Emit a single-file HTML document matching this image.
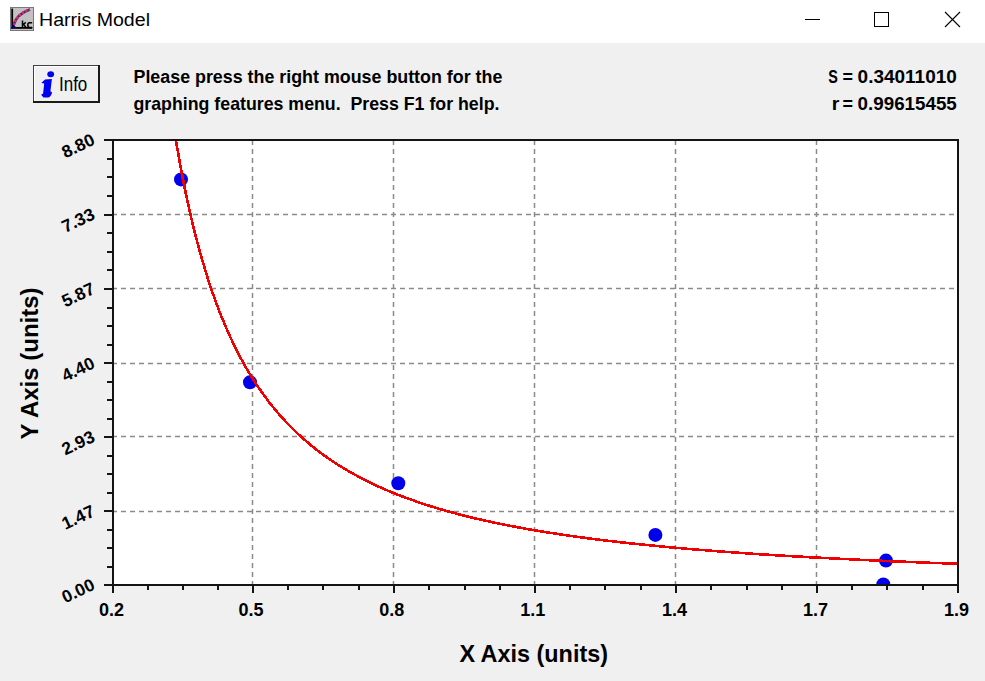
<!DOCTYPE html>
<html><head><meta charset="utf-8"><style>
html,body{margin:0;padding:0;background:#f0f0f0;overflow:hidden;}
svg{display:block;} text{font-family:"Liberation Sans",sans-serif;}
</style></head><body>
<svg width="985" height="681" viewBox="0 0 985 681">
<rect x="0" y="0" width="985" height="43" fill="#ffffff"/>
<rect x="0" y="43" width="985" height="638" fill="#f0f0f0"/>
<g>
<rect x="10" y="7" width="24" height="24" fill="#c2c2c2"/>
<rect x="10.5" y="7.5" width="23" height="23" fill="none" stroke="#7a7a7a" stroke-width="1"/>
<path d="M13.5,25.5 Q16.5,14 30,9.5" fill="none" stroke="#3a2a90" stroke-width="2.6"/>
<path d="M13.5,25.5 Q16.5,14 30,9.5" fill="none" stroke="#e8304a" stroke-width="2.8" stroke-dasharray="2.2,1.6"/>
<rect x="11.3" y="8.6" width="1.8" height="20" fill="#000"/>
<rect x="11.3" y="27" width="21" height="1.8" fill="#000"/>
<path d="M12,23.5 L12,28 L17,28 Z" fill="#000070"/>
<path d="M22.5,20.5 v7.5 M22.6,25 l3.2,-2.6 M23.6,24.4 l2.6,3.4 M32.2,22.8 h-2.6 q-1.8,0 -1.8,2.3 q0,2.4 1.8,2.4 h2.6" fill="none" stroke="#000" stroke-width="1.5"/>
</g>
<text x="39" y="26" font-family="Liberation Sans, sans-serif" font-size="19.2" fill="#000" textLength="111" lengthAdjust="spacingAndGlyphs">Harris Model</text>
<g stroke="#000" stroke-width="1" fill="none" shape-rendering="crispEdges"><line x1="805" y1="19.5" x2="820" y2="19.5"/><rect x="874.5" y="12.5" width="14" height="14"/></g>
<g stroke="#000" stroke-width="1.1" fill="none"><line x1="945" y1="12" x2="960" y2="27"/><line x1="960" y1="12" x2="945" y2="27"/></g>
<g shape-rendering="crispEdges">
<rect x="33" y="65" width="67" height="38" fill="#f0f0f0"/>
<rect x="33" y="65" width="67" height="1" fill="#404040"/>
<rect x="33" y="65" width="1" height="38" fill="#404040"/>
<rect x="34" y="66" width="64" height="1" fill="#ffffff"/>
<rect x="34" y="66" width="1" height="35" fill="#ffffff"/>
<rect x="98" y="65" width="2" height="38" fill="#1a1a1a"/>
<rect x="33" y="101" width="67" height="2" fill="#1a1a1a"/>
</g>
<ellipse cx="50.7" cy="74.2" rx="3.4" ry="3" fill="#0000f0"/>
<path d="M41.3,82.9 L45,79.5 L51.9,79.1 L50.4,91.3 L52.1,92.5 Q51.2,96.6 48.2,97.6 L43.5,97.4 L41.1,94.8 L43.1,93.4 L44.2,83.5 Z" fill="#0000f0"/>
<text x="59" y="90.6" font-family="Liberation Sans, sans-serif" font-size="19.5" fill="#000" transform="translate(59,0) scale(0.87,1) translate(-59,0)">Info</text>
<text x="133.5" y="83.2" font-family="Liberation Sans, sans-serif" font-weight="bold" font-size="17.85" fill="#000">Please press the right mouse button for the</text>
<text x="133.5" y="110" font-family="Liberation Sans, sans-serif" font-weight="bold" font-size="17.75" fill="#000" xml:space="preserve">graphing features menu.  Press F1 for help.</text>
<text y="83.1" font-family="Liberation Sans, sans-serif" font-weight="bold" font-size="18.2" fill="#000"><tspan x="828.2" textLength="9.6" lengthAdjust="spacingAndGlyphs">S</tspan><tspan x="842.6" textLength="10.5" lengthAdjust="spacingAndGlyphs">=</tspan><tspan x="857.6" textLength="99.2" lengthAdjust="spacingAndGlyphs">0.34011010</tspan></text>
<text y="110.2" font-family="Liberation Sans, sans-serif" font-weight="bold" font-size="18.2" fill="#000"><tspan x="831.8" textLength="7.6" lengthAdjust="spacingAndGlyphs">r</tspan><tspan x="842.6" textLength="10.5" lengthAdjust="spacingAndGlyphs">=</tspan><tspan x="857.6" textLength="99.2" lengthAdjust="spacingAndGlyphs">0.99615455</tspan></text>
<rect x="114" y="141" width="843" height="443" fill="#ffffff"/>
<g stroke="#8a8a8a" stroke-width="1.5">
<line x1="252.5" y1="140" x2="252.5" y2="584" stroke-dasharray="5,4"/>
<line x1="393.5" y1="140" x2="393.5" y2="584" stroke-dasharray="5,4"/>
<line x1="534.5" y1="140" x2="534.5" y2="584" stroke-dasharray="5,4"/>
<line x1="675.5" y1="140" x2="675.5" y2="584" stroke-dasharray="5,4"/>
<line x1="816.5" y1="140" x2="816.5" y2="584" stroke-dasharray="5,4"/>
<line x1="112" y1="214.5" x2="957" y2="214.5" stroke-dasharray="5,4"/>
<line x1="112" y1="288.5" x2="957" y2="288.5" stroke-dasharray="5,4"/>
<line x1="112" y1="363.5" x2="957" y2="363.5" stroke-dasharray="5,4"/>
<line x1="112" y1="436.5" x2="957" y2="436.5" stroke-dasharray="5,4"/>
<line x1="112" y1="511.5" x2="957" y2="511.5" stroke-dasharray="5,4"/>
</g>
<defs><clipPath id="pc"><rect x="114" y="141" width="843" height="443"/></clipPath></defs>
<g clip-path="url(#pc)">
<circle cx="181" cy="179.4" r="7" fill="#0000ea"/>
<circle cx="250" cy="382.3" r="7" fill="#0000ea"/>
<circle cx="398.3" cy="483.3" r="7" fill="#0000ea"/>
<circle cx="655.4" cy="534.9" r="7" fill="#0000ea"/>
<circle cx="886" cy="560.6" r="7" fill="#0000ea"/>
<circle cx="883.3" cy="584.5" r="7" fill="#0000ea"/>
<path d="M168.7,93.3 L170.7,107.1 L172.7,120.3 L174.7,132.8 L176.7,144.8 L178.7,156.2 L180.6,167.1 L182.6,177.5 L184.6,187.5 L186.6,197.1 L188.6,206.3 L190.6,215.1 L192.6,223.5 L194.6,231.7 L196.6,239.5 L198.6,247.0 L200.6,254.2 L202.6,261.2 L204.6,267.9 L206.6,274.4 L208.5,280.7 L210.5,286.7 L212.5,292.6 L214.5,298.2 L216.5,303.7 L218.5,309.0 L220.5,314.1 L222.5,319.0 L224.5,323.8 L226.5,328.5 L228.5,333.0 L230.5,337.4 L232.5,341.6 L234.5,345.8 L236.5,349.8 L238.4,353.7 L240.4,357.5 L242.4,361.1 L244.4,364.7 L246.4,368.2 L248.4,371.6 L250.4,374.9 L252.4,378.1 L254.4,381.3 L256.4,384.3 L258.4,387.3 L260.4,390.2 L262.4,393.0 L264.4,395.8 L266.4,398.5 L268.3,401.1 L270.3,403.7 L272.3,406.2 L274.3,408.6 L276.3,411.0 L278.3,413.4 L280.3,415.6 L282.3,417.9 L284.3,420.1 L286.3,422.2 L288.3,424.3 L290.3,426.3 L292.3,428.3 L294.3,430.3 L296.3,432.2 L298.2,434.1 L300.2,435.9 L302.2,437.7 L304.2,439.5 L306.2,441.2 L308.2,442.9 L310.2,444.6 L312.2,446.2 L314.2,447.8 L316.2,449.4 L318.2,450.9 L320.2,452.4 L322.2,453.9 L324.2,455.4 L326.1,456.8 L328.1,458.2 L330.1,459.5 L332.1,460.9 L334.1,462.2 L336.1,463.5 L338.1,464.8 L340.1,466.1 L342.1,467.3 L344.1,468.5 L346.1,469.7 L348.1,470.9 L350.1,472.0 L352.1,473.1 L354.1,474.3 L356.0,475.3 L358.0,476.4 L360.0,477.5 L362.0,478.5 L364.0,479.5 L366.0,480.6 L368.0,481.5 L370.0,482.5 L372.0,483.5 L374.0,484.4 L376.0,485.4 L378.0,486.3 L380.0,487.2 L382.0,488.1 L384.0,488.9 L385.9,489.8 L387.9,490.7 L389.9,491.5 L391.9,492.3 L393.9,493.1 L395.9,493.9 L397.9,494.7 L399.9,495.5 L401.9,496.3 L403.9,497.0 L405.9,497.8 L407.9,498.5 L409.9,499.2 L411.9,499.9 L413.9,500.6 L415.8,501.3 L417.8,502.0 L419.8,502.7 L421.8,503.4 L423.8,504.0 L425.8,504.7 L427.8,505.3 L429.8,505.9 L431.8,506.6 L433.8,507.2 L435.8,507.8 L437.8,508.4 L439.8,509.0 L441.8,509.6 L443.7,510.1 L445.7,510.7 L447.7,511.3 L449.7,511.8 L451.7,512.4 L453.7,512.9 L455.7,513.4 L457.7,514.0 L459.7,514.5 L461.7,515.0 L463.7,515.5 L465.7,516.0 L467.7,516.5 L469.7,517.0 L471.7,517.5 L473.6,518.0 L475.6,518.4 L477.6,518.9 L479.6,519.4 L481.6,519.8 L483.6,520.3 L485.6,520.7 L487.6,521.2 L489.6,521.6 L491.6,522.0 L493.6,522.5 L495.6,522.9 L497.6,523.3 L499.6,523.7 L501.6,524.1 L503.5,524.5 L505.5,524.9 L507.5,525.3 L509.5,525.7 L511.5,526.1 L513.5,526.5 L515.5,526.8 L517.5,527.2 L519.5,527.6 L521.5,528.0 L523.5,528.3 L525.5,528.7 L527.5,529.0 L529.5,529.4 L531.5,529.7 L533.4,530.1 L535.4,530.4 L537.4,530.7 L539.4,531.1 L541.4,531.4 L543.4,531.7 L545.4,532.1 L547.4,532.4 L549.4,532.7 L551.4,533.0 L553.4,533.3 L555.4,533.6 L557.4,533.9 L559.4,534.2 L561.3,534.5 L563.3,534.8 L565.3,535.1 L567.3,535.4 L569.3,535.7 L571.3,536.0 L573.3,536.3 L575.3,536.5 L577.3,536.8 L579.3,537.1 L581.3,537.4 L583.3,537.6 L585.3,537.9 L587.3,538.2 L589.3,538.4 L591.2,538.7 L593.2,538.9 L595.2,539.2 L597.2,539.4 L599.2,539.7 L601.2,539.9 L603.2,540.2 L605.2,540.4 L607.2,540.7 L609.2,540.9 L611.2,541.1 L613.2,541.4 L615.2,541.6 L617.2,541.8 L619.2,542.1 L621.1,542.3 L623.1,542.5 L625.1,542.7 L627.1,542.9 L629.1,543.2 L631.1,543.4 L633.1,543.6 L635.1,543.8 L637.1,544.0 L639.1,544.2 L641.1,544.4 L643.1,544.6 L645.1,544.8 L647.1,545.0 L649.1,545.2 L651.0,545.4 L653.0,545.6 L655.0,545.8 L657.0,546.0 L659.0,546.2 L661.0,546.4 L663.0,546.6 L665.0,546.8 L667.0,547.0 L669.0,547.2 L671.0,547.3 L673.0,547.5 L675.0,547.7 L677.0,547.9 L678.9,548.1 L680.9,548.2 L682.9,548.4 L684.9,548.6 L686.9,548.8 L688.9,548.9 L690.9,549.1 L692.9,549.3 L694.9,549.4 L696.9,549.6 L698.9,549.8 L700.9,549.9 L702.9,550.1 L704.9,550.2 L706.9,550.4 L708.8,550.6 L710.8,550.7 L712.8,550.9 L714.8,551.0 L716.8,551.2 L718.8,551.3 L720.8,551.5 L722.8,551.6 L724.8,551.8 L726.8,551.9 L728.8,552.1 L730.8,552.2 L732.8,552.4 L734.8,552.5 L736.8,552.7 L738.7,552.8 L740.7,552.9 L742.7,553.1 L744.7,553.2 L746.7,553.4 L748.7,553.5 L750.7,553.6 L752.7,553.8 L754.7,553.9 L756.7,554.0 L758.7,554.2 L760.7,554.3 L762.7,554.4 L764.7,554.5 L766.7,554.7 L768.6,554.8 L770.6,554.9 L772.6,555.1 L774.6,555.2 L776.6,555.3 L778.6,555.4 L780.6,555.5 L782.6,555.7 L784.6,555.8 L786.6,555.9 L788.6,556.0 L790.6,556.1 L792.6,556.3 L794.6,556.4 L796.5,556.5 L798.5,556.6 L800.5,556.7 L802.5,556.8 L804.5,556.9 L806.5,557.1 L808.5,557.2 L810.5,557.3 L812.5,557.4 L814.5,557.5 L816.5,557.6 L818.5,557.7 L820.5,557.8 L822.5,557.9 L824.5,558.0 L826.4,558.1 L828.4,558.2 L830.4,558.3 L832.4,558.4 L834.4,558.5 L836.4,558.6 L838.4,558.7 L840.4,558.8 L842.4,558.9 L844.4,559.0 L846.4,559.1 L848.4,559.2 L850.4,559.3 L852.4,559.4 L854.4,559.5 L856.3,559.6 L858.3,559.7 L860.3,559.8 L862.3,559.9 L864.3,560.0 L866.3,560.1 L868.3,560.2 L870.3,560.3 L872.3,560.4 L874.3,560.5 L876.3,560.5 L878.3,560.6 L880.3,560.7 L882.3,560.8 L884.3,560.9 L886.2,561.0 L888.2,561.1 L890.2,561.2 L892.2,561.2 L894.2,561.3 L896.2,561.4 L898.2,561.5 L900.2,561.6 L902.2,561.7 L904.2,561.7 L906.2,561.8 L908.2,561.9 L910.2,562.0 L912.2,562.1 L914.1,562.1 L916.1,562.2 L918.1,562.3 L920.1,562.4 L922.1,562.5 L924.1,562.5 L926.1,562.6 L928.1,562.7 L930.1,562.8 L932.1,562.8 L934.1,562.9 L936.1,563.0 L938.1,563.1 L940.1,563.1 L942.1,563.2 L944.0,563.3 L946.0,563.4 L948.0,563.4 L950.0,563.5 L952.0,563.6 L954.0,563.7 L956.0,563.7 L958.0,563.8" fill="none" stroke="#f00000" stroke-width="2.6" shape-rendering="crispEdges"/>
</g>
<g fill="#141414" shape-rendering="crispEdges">
<rect x="112" y="139" width="847" height="2"/>
<rect x="112" y="584" width="847" height="2"/>
<rect x="112" y="139" width="2" height="447"/>
<rect x="957" y="139" width="2" height="447"/>
<rect x="147" y="586" width="2" height="4"/>
<rect x="182" y="586" width="2" height="4"/>
<rect x="217" y="586" width="2" height="4"/>
<rect x="287" y="586" width="2" height="4"/>
<rect x="322" y="586" width="2" height="4"/>
<rect x="358" y="586" width="2" height="4"/>
<rect x="428" y="586" width="2" height="4"/>
<rect x="464" y="586" width="2" height="4"/>
<rect x="499" y="586" width="2" height="4"/>
<rect x="569" y="586" width="2" height="4"/>
<rect x="604" y="586" width="2" height="4"/>
<rect x="640" y="586" width="2" height="4"/>
<rect x="710" y="586" width="2" height="4"/>
<rect x="746" y="586" width="2" height="4"/>
<rect x="781" y="586" width="2" height="4"/>
<rect x="851" y="586" width="2" height="4"/>
<rect x="886" y="586" width="2" height="4"/>
<rect x="922" y="586" width="2" height="4"/>
<rect x="112" y="586" width="2" height="7"/>
<rect x="252" y="586" width="2" height="7"/>
<rect x="393" y="586" width="2" height="7"/>
<rect x="534" y="586" width="2" height="7"/>
<rect x="675" y="586" width="2" height="7"/>
<rect x="816" y="586" width="2" height="7"/>
<rect x="957" y="586" width="2" height="7"/>
<rect x="107" y="158" width="5" height="2"/>
<rect x="107" y="176" width="5" height="2"/>
<rect x="107" y="195" width="5" height="2"/>
<rect x="107" y="232" width="5" height="2"/>
<rect x="107" y="251" width="5" height="2"/>
<rect x="107" y="269" width="5" height="2"/>
<rect x="107" y="307" width="5" height="2"/>
<rect x="107" y="325" width="5" height="2"/>
<rect x="107" y="344" width="5" height="2"/>
<rect x="107" y="381" width="5" height="2"/>
<rect x="107" y="399" width="5" height="2"/>
<rect x="107" y="418" width="5" height="2"/>
<rect x="107" y="455" width="5" height="2"/>
<rect x="107" y="473" width="5" height="2"/>
<rect x="107" y="492" width="5" height="2"/>
<rect x="107" y="529" width="5" height="2"/>
<rect x="107" y="547" width="5" height="2"/>
<rect x="107" y="566" width="5" height="2"/>
<rect x="104" y="139" width="8" height="2"/>
<rect x="104" y="214" width="8" height="2"/>
<rect x="104" y="288" width="8" height="2"/>
<rect x="104" y="362" width="8" height="2"/>
<rect x="104" y="436" width="8" height="2"/>
<rect x="104" y="510" width="8" height="2"/>
<rect x="104" y="584" width="8" height="2"/>
</g>
<text x="111.5" y="615.5" font-family="Liberation Sans, sans-serif" font-weight="bold" font-size="18" fill="#000" text-anchor="middle">0.2</text>
<text x="251" y="615.5" font-family="Liberation Sans, sans-serif" font-weight="bold" font-size="18" fill="#000" text-anchor="middle">0.5</text>
<text x="391.8" y="615.5" font-family="Liberation Sans, sans-serif" font-weight="bold" font-size="18" fill="#000" text-anchor="middle">0.8</text>
<text x="532.8" y="615.5" font-family="Liberation Sans, sans-serif" font-weight="bold" font-size="18" fill="#000" text-anchor="middle">1.1</text>
<text x="674.4" y="615.5" font-family="Liberation Sans, sans-serif" font-weight="bold" font-size="18" fill="#000" text-anchor="middle">1.4</text>
<text x="815.4" y="615.5" font-family="Liberation Sans, sans-serif" font-weight="bold" font-size="18" fill="#000" text-anchor="middle">1.7</text>
<text x="956.4" y="615.5" font-family="Liberation Sans, sans-serif" font-weight="bold" font-size="18" fill="#000" text-anchor="middle">1.9</text>
<text x="0" y="0" font-family="Liberation Sans, sans-serif" font-weight="bold" font-size="17.5" fill="#000" text-anchor="end" transform="translate(96,144) rotate(-25)">8.80</text>
<text x="0" y="0" font-family="Liberation Sans, sans-serif" font-weight="bold" font-size="17.5" fill="#000" text-anchor="end" transform="translate(96,218.5) rotate(-25)">7.33</text>
<text x="0" y="0" font-family="Liberation Sans, sans-serif" font-weight="bold" font-size="17.5" fill="#000" text-anchor="end" transform="translate(96,293) rotate(-25)">5.87</text>
<text x="0" y="0" font-family="Liberation Sans, sans-serif" font-weight="bold" font-size="17.5" fill="#000" text-anchor="end" transform="translate(96,367.5) rotate(-25)">4.40</text>
<text x="0" y="0" font-family="Liberation Sans, sans-serif" font-weight="bold" font-size="17.5" fill="#000" text-anchor="end" transform="translate(96,441) rotate(-25)">2.93</text>
<text x="0" y="0" font-family="Liberation Sans, sans-serif" font-weight="bold" font-size="17.5" fill="#000" text-anchor="end" transform="translate(96,515.5) rotate(-25)">1.47</text>
<text x="0" y="0" font-family="Liberation Sans, sans-serif" font-weight="bold" font-size="17.5" fill="#000" text-anchor="end" transform="translate(96,589) rotate(-25)">0.00</text>
<text x="533.7" y="662.4" font-family="Liberation Sans, sans-serif" font-weight="bold" font-size="23.4" fill="#000" text-anchor="middle">X Axis (units)</text>
<text x="0" y="0" font-family="Liberation Sans, sans-serif" font-weight="bold" font-size="24" fill="#000" text-anchor="middle" transform="translate(37.8,363.4) rotate(-90)">Y Axis (units)</text>
</svg>
</body></html>
